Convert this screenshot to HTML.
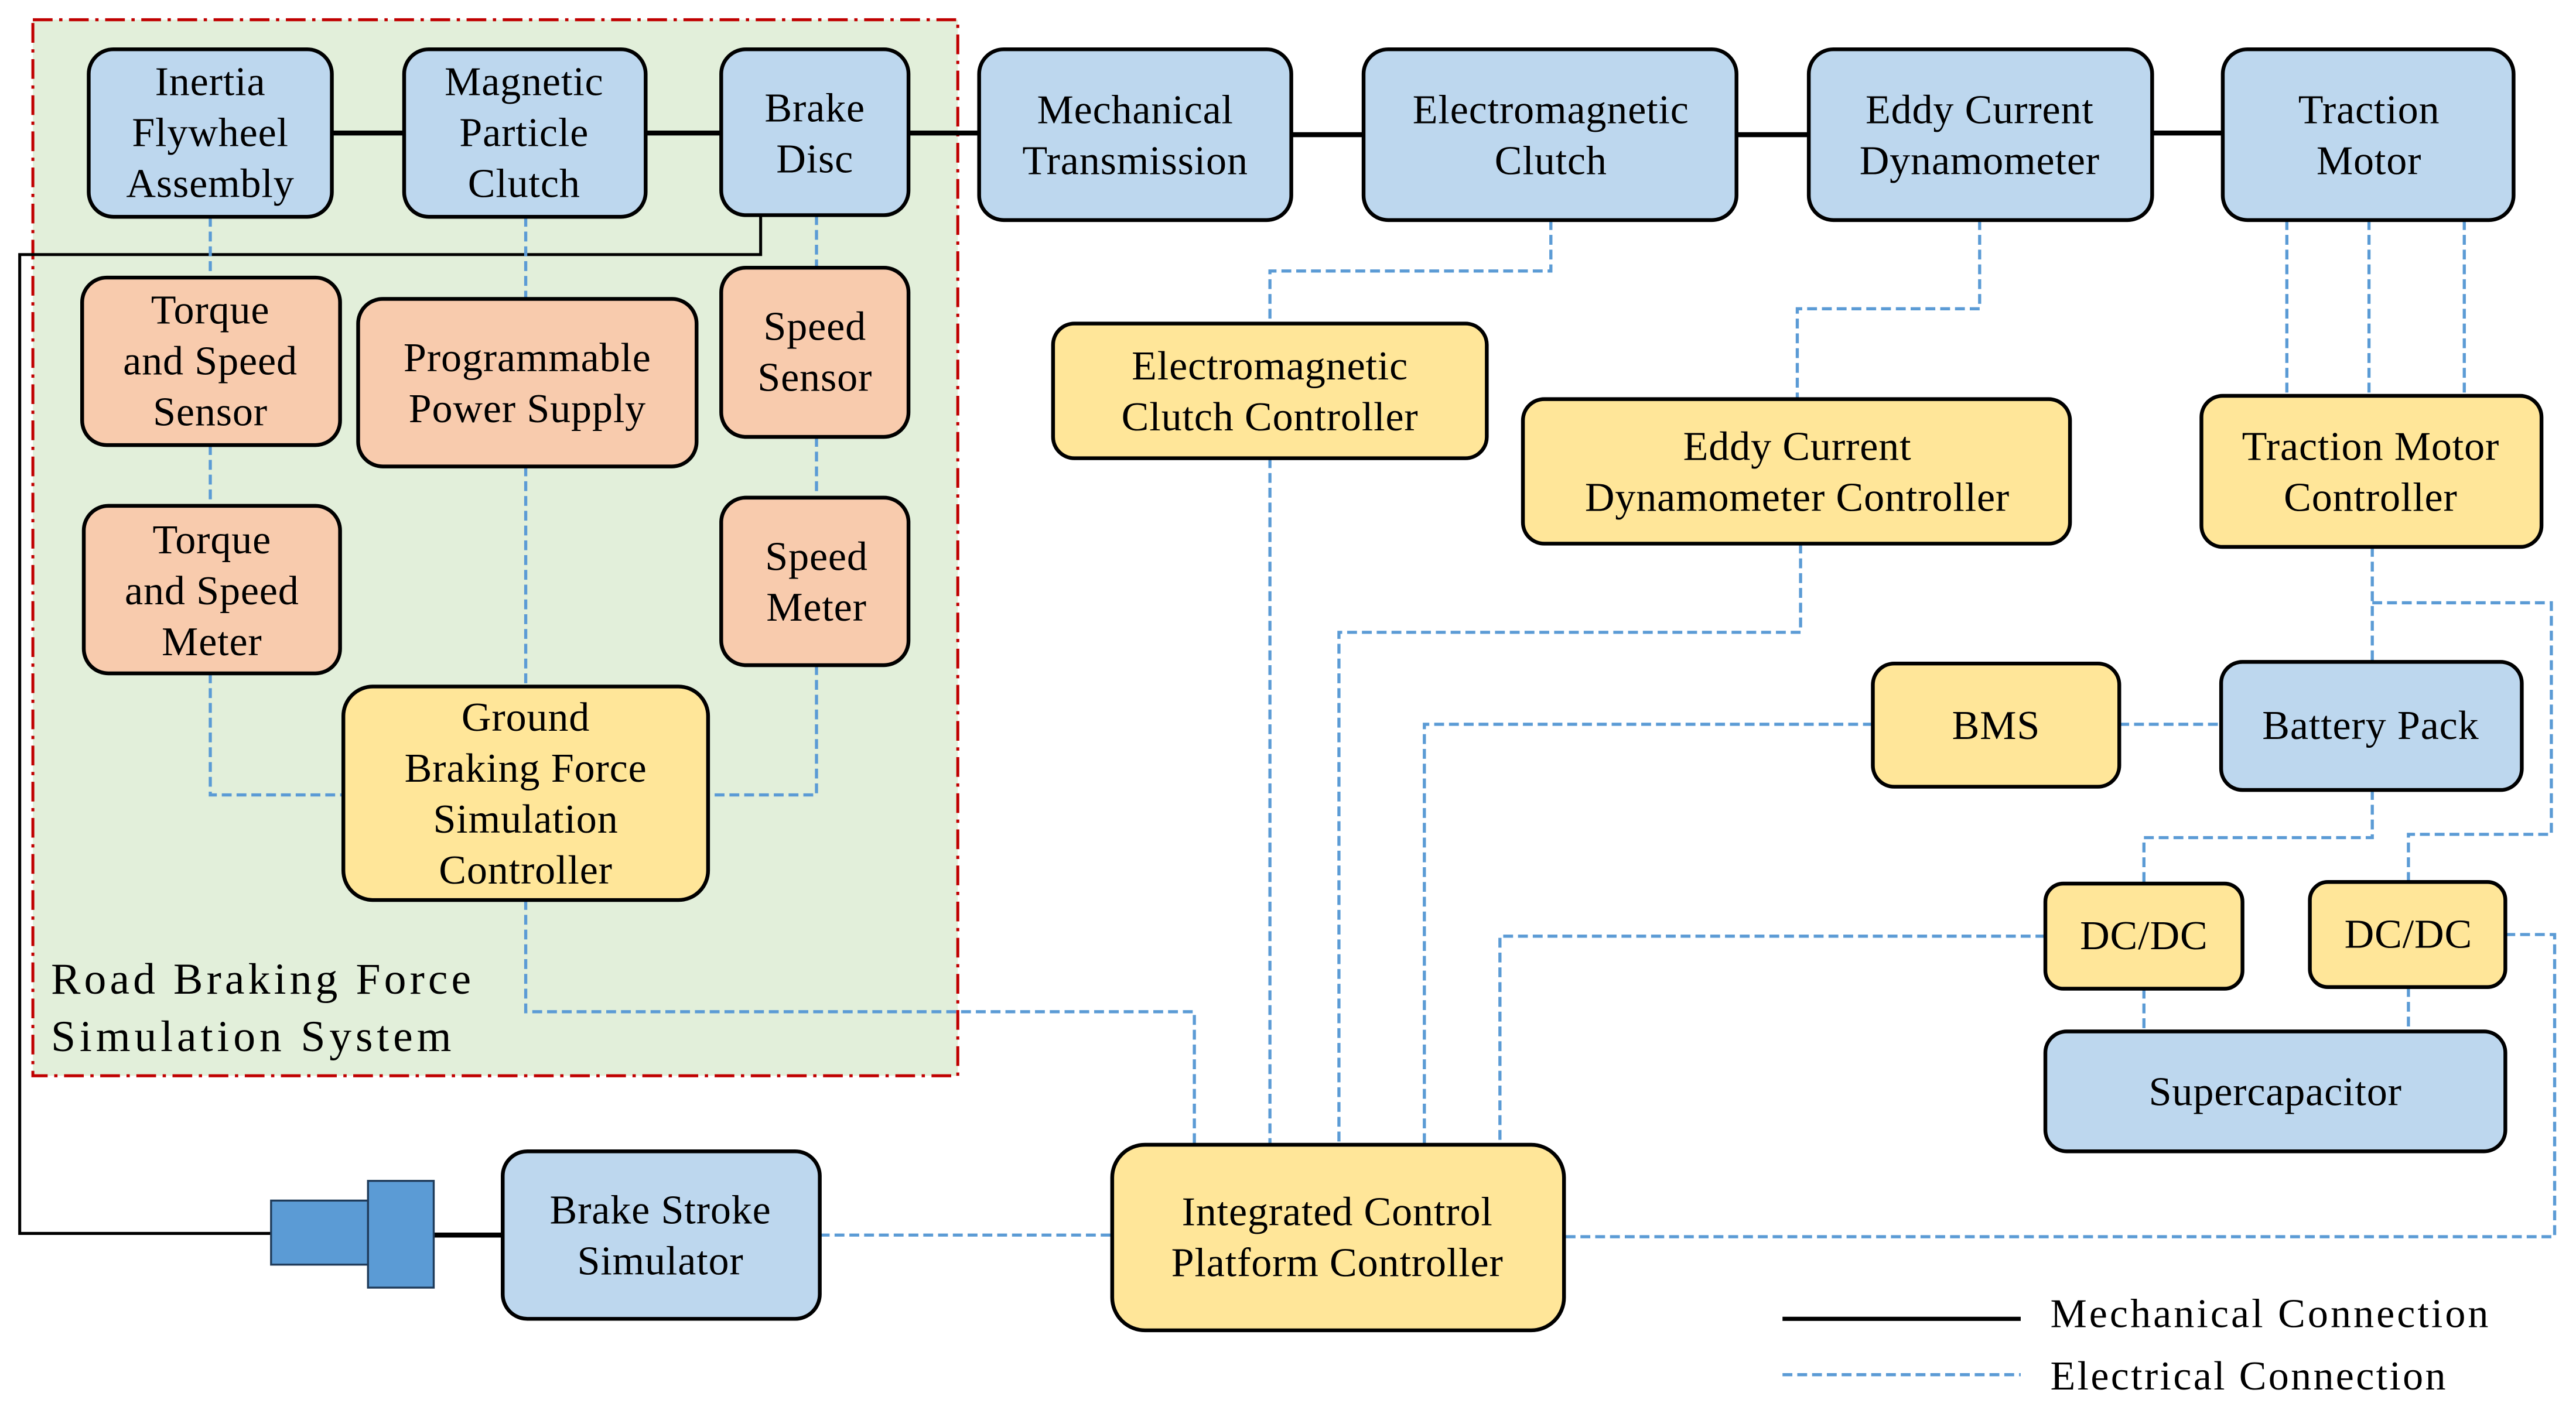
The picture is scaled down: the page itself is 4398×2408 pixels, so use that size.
<!DOCTYPE html>
<html><head><meta charset="utf-8"><style>
html,body{margin:0;padding:0;background:#fff;}
svg{display:block;}
text{font-family:"Liberation Serif",serif;font-size:25px;fill:#000;text-anchor:middle;letter-spacing:0.3px;}
.b{stroke:#000;stroke-width:2.3;}
.bl{fill:#bdd7ee;}.or{fill:#f8cbad;}.ye{fill:#ffe699;}
.e{fill:none;stroke:#5b9bd5;stroke-width:1.9;stroke-dasharray:6,3;}
.m{fill:none;stroke:#000;stroke-width:3;}
.m2{fill:none;stroke:#000;stroke-width:1.8;}
</style></head><body>
<svg width="4398" height="2408" viewBox="0 0 1568 858.5" xmlns="http://www.w3.org/2000/svg">
<rect x="0" y="0" width="1568" height="858.5" fill="#fff"/>
<rect x="20" y="12" width="563" height="643" fill="#e2efda" stroke="#c00000" stroke-width="1.8" stroke-dasharray="12,4,2,4"/>

<path class="m" d="M202 81H246M393 81H439M553 81H596M786 82H830M1057 82H1101M1310 81H1353M263 752H306"/>
<path class="m2" d="M463 131V155H12V751H166"/>

<path class="e" d="M128 132V169M128 271V308M320 132V182M497 131V163M497 266V303"/>
<path class="e" d="M128 410V484H209M497 405V484H431M320 284V418"/>
<path class="e" d="M320 548V616H727V697"/>
<path class="e" d="M944 134V165H773V197M773 279V697"/>
<path class="e" d="M1205 134V188H1094V243M1096 331V385H815V697"/>
<path class="e" d="M1140 441H867V697M1245 570H913V697"/>
<path class="e" d="M727 697H913"/>
<path class="e" d="M1392 134V241M1442 134V241M1500 134V241"/>
<path class="e" d="M1444 333V403M1444 367H1553V508H1466V537"/>
<path class="e" d="M1290 441H1352M1444 481V510H1305V538M1305 602V628M1466 601V628"/>
<path class="e" d="M1525 569H1555V753H952M499 752H677"/>

<rect x="165" y="731" width="60" height="39" fill="#5b9bd5" stroke="#1f3b5a" stroke-width="1.2"/>
<rect x="224" y="719" width="40" height="65" fill="#5b9bd5" stroke="#1f3b5a" stroke-width="1.2"/>

<g class="b">
<rect class="bl" x="54" y="30" width="148" height="102" rx="15"/>
<rect class="bl" x="246" y="30" width="147" height="102" rx="15"/>
<rect class="bl" x="439" y="30" width="114" height="101" rx="15"/>
<rect class="bl" x="596" y="30" width="190" height="104" rx="15"/>
<rect class="bl" x="830" y="30" width="227" height="104" rx="15"/>
<rect class="bl" x="1101" y="30" width="209" height="104" rx="15"/>
<rect class="bl" x="1353" y="30" width="177" height="104" rx="15"/>
<rect class="or" x="50" y="169" width="157" height="102" rx="15"/>
<rect class="or" x="218" y="182" width="206" height="102" rx="15"/>
<rect class="or" x="439" y="163" width="114" height="103" rx="15"/>
<rect class="or" x="51" y="308" width="156" height="102" rx="15"/>
<rect class="or" x="439" y="303" width="114" height="102" rx="15"/>
<rect class="ye" x="209" y="418" width="222" height="130" rx="18"/>
<rect class="ye" x="641" y="197" width="264" height="82" rx="13"/>
<rect class="ye" x="927" y="243" width="333" height="88" rx="13"/>
<rect class="ye" x="1340" y="241" width="207" height="92" rx="13"/>
<rect class="ye" x="1140" y="404" width="150" height="75" rx="13"/>
<rect class="bl" x="1352" y="403" width="183" height="78" rx="13"/>
<rect class="ye" x="1245" y="538" width="120" height="64" rx="11"/>
<rect class="ye" x="1406" y="537" width="119" height="64" rx="11"/>
<rect class="bl" x="1245" y="628" width="280" height="73" rx="13"/>
<rect class="ye" x="677" y="697" width="275" height="113" rx="20"/>
<rect class="bl" x="306" y="701" width="193" height="102" rx="15"/>
</g>

<text x="128" y="58">Inertia</text><text x="128" y="89">Flywheel</text><text x="128" y="120">Assembly</text>
<text x="319" y="58">Magnetic</text><text x="319" y="89">Particle</text><text x="319" y="120">Clutch</text>
<text x="496" y="74">Brake</text><text x="496" y="105">Disc</text>
<text x="691" y="75">Mechanical</text><text x="691" y="106">Transmission</text>
<text x="944" y="75">Electromagnetic</text><text x="944" y="106">Clutch</text>
<text x="1205" y="75">Eddy Current</text><text x="1205" y="106">Dynamometer</text>
<text x="1442" y="75">Traction</text><text x="1442" y="106">Motor</text>
<text x="128" y="197">Torque</text><text x="128" y="228">and Speed</text><text x="128" y="259">Sensor</text>
<text x="321" y="226">Programmable</text><text x="321" y="257">Power Supply</text>
<text x="496" y="207">Speed</text><text x="496" y="238">Sensor</text>
<text x="129" y="337">Torque</text><text x="129" y="368">and Speed</text><text x="129" y="399">Meter</text>
<text x="497" y="347">Speed</text><text x="497" y="378">Meter</text>
<text x="320" y="445">Ground</text><text x="320" y="476">Braking Force</text><text x="320" y="507">Simulation</text><text x="320" y="538">Controller</text>
<text x="773" y="231">Electromagnetic</text><text x="773" y="262">Clutch Controller</text>
<text x="1094" y="280">Eddy Current</text><text x="1094" y="311">Dynamometer Controller</text>
<text x="1443" y="280">Traction Motor</text><text x="1443" y="311">Controller</text>
<text x="1215" y="450">BMS</text>
<text x="1443" y="450">Battery Pack</text>
<text x="1305" y="578">DC/DC</text>
<text x="1466" y="577">DC/DC</text>
<text x="1385" y="673">Supercapacitor</text>
<text x="814" y="746">Integrated Control</text><text x="814" y="777">Platform Controller</text>
<text x="402" y="745">Brake Stroke</text><text x="402" y="776">Simulator</text>
<text x="31" y="605" style="text-anchor:start;font-size:27px" textLength="256">Road Braking Force</text>
<text x="31" y="640" style="text-anchor:start;font-size:27px" textLength="244">Simulation System</text>

<path d="M1085 803H1230" stroke="#000" stroke-width="2.5"/>
<path d="M1085 837H1230" class="e"/>
<text x="1248" y="808" style="text-anchor:start" textLength="267">Mechanical Connection</text>
<text x="1248" y="846" style="text-anchor:start" textLength="241">Electrical Connection</text>
</svg>
</body></html>
